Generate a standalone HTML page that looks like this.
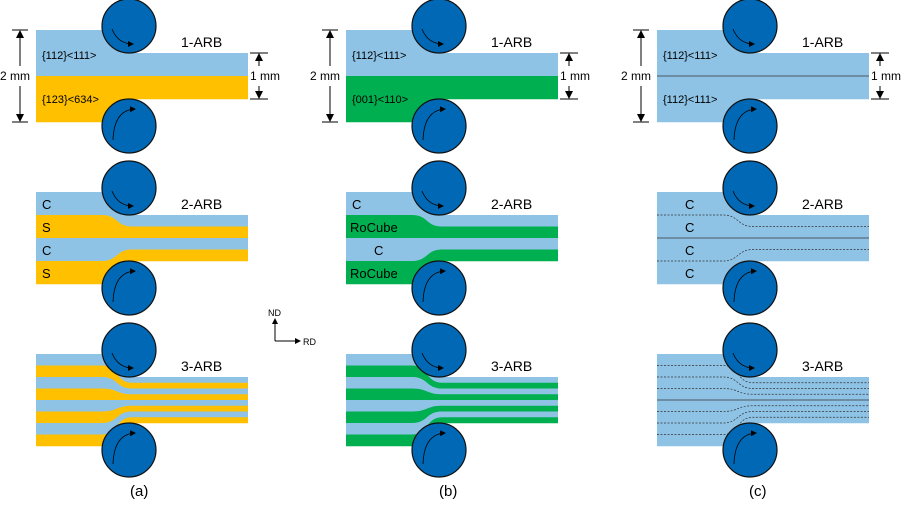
<!DOCTYPE html>
<html><head><meta charset="utf-8"><style>
html,body{margin:0;padding:0;background:#fff;width:906px;height:505px;overflow:hidden}
svg{display:block}
text{font-family:"Liberation Sans",sans-serif;fill:#000}
</style></head><body>
<svg id="s" width="906" height="505" viewBox="0 0 906 505" xmlns="http://www.w3.org/2000/svg">
<defs><marker id="ah" markerWidth="6" markerHeight="6" refX="5" refY="3" orient="auto" markerUnits="userSpaceOnUse"><path d="M0,0 L6,3 L0,6 Z" fill="#000"/></marker>
<marker id="ah2" markerWidth="8" markerHeight="8" refX="7" refY="4" orient="auto" markerUnits="userSpaceOnUse"><path d="M0,0 L8,4 L0,8 Z" fill="#000"/></marker></defs>
<g id="shapes"></g>
<g id="labels">
<text x="181" y="47" font-size="14">1-ARB</text><text x="491" y="47" font-size="14">1-ARB</text><text x="802" y="47" font-size="14">1-ARB</text>
<text x="181" y="209" font-size="14">2-ARB</text><text x="491" y="209" font-size="14">2-ARB</text><text x="802" y="209" font-size="14">2-ARB</text>
<text x="181" y="371" font-size="14">3-ARB</text><text x="491" y="371" font-size="14">3-ARB</text><text x="802" y="371" font-size="14">3-ARB</text>
<text x="42" y="59" font-size="11">{112}&lt;111&gt;</text><text x="42" y="103" font-size="11">{123}&lt;634&gt;</text>
<text x="352" y="59" font-size="11">{112}&lt;111&gt;</text><text x="352" y="103" font-size="11">{001}&lt;110&gt;</text>
<text x="663" y="59" font-size="11">{112}&lt;111&gt;</text><text x="663" y="103" font-size="11">{112}&lt;111&gt;</text>
<text x="0" y="80" font-size="12">2 mm</text><text x="250" y="80" font-size="12">1 mm</text>
<text x="310" y="80" font-size="12">2 mm</text><text x="560" y="80" font-size="12">1 mm</text>
<text x="621" y="80" font-size="12">2 mm</text><text x="871" y="80" font-size="12">1 mm</text>
<text x="42" y="209" font-size="13">C</text><text x="42" y="232" font-size="13">S</text><text x="42" y="255" font-size="13">C</text><text x="42" y="278" font-size="13">S</text>
<text x="352" y="209" font-size="13">C</text><text x="350" y="232" font-size="13">RoCube</text><text x="374" y="255" font-size="13">C</text><text x="350" y="278" font-size="13">RoCube</text>
<text x="685" y="209" font-size="13">C</text><text x="685" y="232" font-size="13">C</text><text x="685" y="255" font-size="13">C</text><text x="685" y="278" font-size="13">C</text>
<text x="268" y="316" font-size="9">ND</text><text x="303" y="345" font-size="9">RD</text>
<path d="M275,341 L275,319" stroke="#000" stroke-width="1" fill="none" marker-end="url(#ah)"/>
<path d="M275,341 L300,341" stroke="#000" stroke-width="1" fill="none" marker-end="url(#ah)"/>
<text x="130" y="496" font-size="15">(a)</text><text x="439" y="496" font-size="15">(b)</text><text x="749" y="496" font-size="15">(c)</text>
</g>
</svg>
<script>
var B='#8ec3e6',Y='#ffc000',G='#00b050';
var g=document.getElementById('shapes'),ns='http://www.w3.org/2000/svg';
function el(t,a){var e=document.createElementNS(ns,t);for(var k in a)e.setAttribute(k,a[k]);g.appendChild(e);return e;}
function th(y,oy){return oy+76+(y-oy-76)/2;}
function strip(ox,oy,cols){var n=cols.length,h=92/n;
 for(var k=0;k<n;k++){var yt=oy+30+k*h,yb=yt+h,st=th(yt,oy),sb=th(yb,oy);
  var d='M'+(ox+36)+','+yt+' L'+(ox+102)+','+yt+' C'+(ox+118)+','+yt+' '+(ox+116)+','+st+' '+(ox+132)+','+st+' L'+(ox+248)+','+st+' L'+(ox+248)+','+(sb+0.3)+' L'+(ox+132)+','+(sb+0.3)+' C'+(ox+116)+','+(sb+0.3)+' '+(ox+118)+','+(yb+0.3)+' '+(ox+102)+','+(yb+0.3)+' L'+(ox+36)+','+(yb+0.3)+' Z';
  el('path',{d:d,fill:cols[k]});}}
function lines(ox,oy,n,solid){var h=92/n;for(var k=1;k<n;k++){var yt=oy+30+k*h,st=th(yt,oy);
 var d='M'+(ox+36)+','+yt+' L'+(ox+102)+','+yt+' C'+(ox+118)+','+yt+' '+(ox+116)+','+st+' '+(ox+132)+','+st+' L'+(ox+248)+','+st;
 var a={d:d,fill:'none',stroke:'#333','stroke-width':0.7};if(k!=solid)a['stroke-dasharray']='2,1.5';el('path',a);}}
function rollers(ox,oy){
 el('circle',{cx:ox+129,cy:oy+26,r:27,fill:'#0068b4',stroke:'#111','stroke-width':1.2});
 el('circle',{cx:ox+129,cy:oy+126,r:27,fill:'#0068b4',stroke:'#111','stroke-width':1.2});
 el('path',{d:'M'+(ox+112)+','+(oy+29)+' Q'+(ox+118)+','+(oy+44)+' '+(ox+133)+','+(oy+44),fill:'none',stroke:'#000','stroke-width':0.8,'marker-end':'url(#ah)'});
 el('path',{d:'M'+(ox+113)+','+(oy+140)+' Q'+(ox+114)+','+(oy+110)+' '+(ox+135)+','+(oy+109),fill:'none',stroke:'#000','stroke-width':0.8,'marker-end':'url(#ah)'});}
var P=[[0,Y],[310,G],[621,B]];
P.forEach(function(p){var ox=p[0],c=p[1];
 strip(ox,0,[B,c]);strip(ox,162,[B,c,B,c]);strip(ox,324,[B,c,B,c,B,c,B,c]);
 if(ox==621){lines(ox,0,2,1);lines(ox,162,4,2);lines(ox,324,8,4);}
 rollers(ox,0);rollers(ox,162);rollers(ox,324);
 el('path',{d:'M'+(ox+12)+',30 L'+(ox+28)+',30 M'+(ox+12)+',122 L'+(ox+28)+',122 M'+(ox+250)+',53 L'+(ox+268)+',53 M'+(ox+250)+',99 L'+(ox+268)+',99',stroke:'#000','stroke-width':1});
 el('path',{d:'M'+(ox+20)+',66 L'+(ox+20)+',31',stroke:'#000','stroke-width':1,'marker-end':'url(#ah2)'});
 el('path',{d:'M'+(ox+20)+',86 L'+(ox+20)+',121',stroke:'#000','stroke-width':1,'marker-end':'url(#ah2)'});
 el('path',{d:'M'+(ox+259)+',66 L'+(ox+259)+',54',stroke:'#000','stroke-width':1,'marker-end':'url(#ah2)'});
 el('path',{d:'M'+(ox+259)+',86 L'+(ox+259)+',98',stroke:'#000','stroke-width':1,'marker-end':'url(#ah2)'});
});
</script>
</body></html>
